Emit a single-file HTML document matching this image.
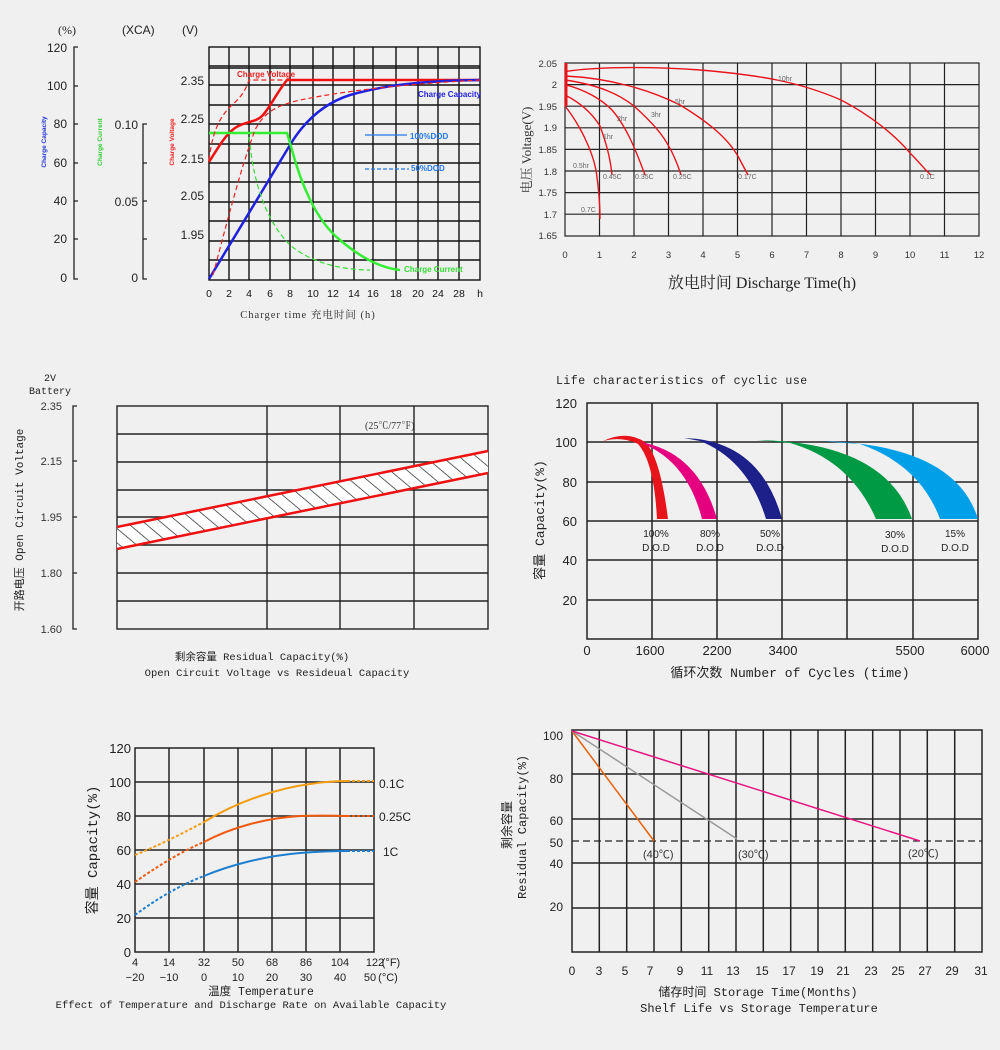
<!DOCTYPE html>
<html><head><meta charset="utf-8"><style>
html,body{margin:0;padding:0;background:#f0f0f0;}
svg{display:block;}
text{font-family:"Liberation Sans","Noto Sans CJK SC",sans-serif;}
.m{font-family:"Liberation Mono","Noto Sans CJK SC",monospace;}
.s{font-family:"Liberation Serif","Noto Serif CJK SC",serif;}
</style></head><body>
<svg width="1000" height="1050" viewBox="0 0 1000 1050" xmlns="http://www.w3.org/2000/svg">
<rect width="1000" height="1050" fill="#f0f0f0"/>
<defs>
<pattern id="h" width="11" height="11" patternUnits="userSpaceOnUse" patternTransform="rotate(-50)">
<rect width="11" height="11" fill="#fff"/><line x1="0" y1="0" x2="0" y2="11" stroke="#222" stroke-width="1.4"/></pattern>
</defs>

<!-- ========== Chart 1 ========== -->
<g font-size="12" fill="#222">
<text x="58" y="34" class="s">(%)</text><text x="122" y="34">(XCA)</text><text x="182" y="34">(V)</text>
</g>
<g stroke="#222" stroke-width="1.3" fill="none">
<path d="M78,47 H74 V279 H78 M74,86 H78 M74,124 H78 M74,163 H78 M74,201 H78 M74,239 H78"/>
<path d="M147,124 H143 V279 H147 M143,163 H147 M143,201 H147 M143,239 H147"/>
</g>
<g font-size="12" fill="#222" class="s" text-anchor="end">
<text x="67" y="52">120</text><text x="67" y="90">100</text><text x="67" y="128">80</text><text x="67" y="167">60</text><text x="67" y="205">40</text><text x="67" y="243">20</text><text x="67" y="282">0</text>
<text x="138" y="129">0.10</text><text x="138" y="206">0.05</text><text x="138" y="282">0</text>
<text x="204" y="85">2.35</text><text x="204" y="123">2.25</text><text x="204" y="163">2.15</text><text x="204" y="200">2.05</text><text x="204" y="239">1.95</text>
</g>
<g font-size="6.5" font-weight="bold" text-anchor="middle">
<text transform="translate(46,142) rotate(-90)" fill="#2233dd">Charge Capacity</text>
<text transform="translate(102,142) rotate(-90)" fill="#33cc33">Charge Current</text>
<text transform="translate(174,142) rotate(-90)" fill="#ee2222">Charge Voltage</text>
</g>
<g stroke="#111" stroke-width="1.4" fill="none">
<rect x="209" y="47" width="271" height="233"/>
<path d="M229,47V280M249,47V280M270,47V280M290,47V280M313,47V280M333,47V280M354,47V280M373,47V280M396,47V280M418,47V280M438,47V280M459,47V280"/>
<path d="M209,66H480M209,68H480M209,85H480M209,105H480M209,124H480M209,144H480M209,163H480M209,182H480M209,202H480M209,221H480M209,241H480M209,260H480"/>
</g>
<g fill="none" stroke-width="2.5">
<path d="M209,162 C218,148 225,135 235,128 C245,121 255,123 262,116 C270,108 275,95 287,80 H480" stroke="#f01010"/>
<path d="M209,279 L290,145 C305,120 325,103 350,95 C385,85 420,81 480,80" stroke="#2020e0"/>
<path d="M209,133 H287 L292,150 C300,180 315,220 340,240 C360,257 380,268 400,270" stroke="#33ee33"/>
</g>
<g fill="none" stroke-width="1.2" stroke-dasharray="5,3">
<path d="M209,160 C212,135 218,118 232,105 C240,98 245,92 249,80 H290" stroke="#ee2222"/>
<path d="M213,275 C225,230 240,170 255,130 C265,110 280,105 300,100 C340,92 390,85 480,80" stroke="#ee2222"/>
<path d="M249,137 L252,160 C258,195 270,225 290,245 C310,262 340,270 370,270" stroke="#33dd33"/>
</g>
<line x1="365" y1="135" x2="407" y2="135" stroke="#2277ee" stroke-width="1.2"/>
<line x1="365" y1="169" x2="409" y2="169" stroke="#2277ee" stroke-width="1.2" stroke-dasharray="4,2"/>
<g font-size="8" font-weight="bold">
<text x="410" y="139" fill="#2277ee">100%DOD</text><text x="411" y="171" fill="#2277ee">50%DOD</text>
<text x="237" y="77" fill="#ee2222">Charge Voltage</text>
<text x="418" y="97" fill="#2222dd">Charge Capacity</text>
<text x="404" y="272" fill="#33dd33">Charge Current</text>
</g>
<g font-size="10.5" fill="#111" text-anchor="middle">
<text x="209" y="297">0</text><text x="229" y="297">2</text><text x="249" y="297">4</text><text x="270" y="297">6</text><text x="290" y="297">8</text><text x="313" y="297">10</text><text x="333" y="297">12</text><text x="354" y="297">14</text><text x="373" y="297">16</text><text x="396" y="297">18</text><text x="418" y="297">20</text><text x="438" y="297">24</text><text x="459" y="297">28</text><text x="480" y="297">h</text>
</g>
<text x="308" y="318" font-size="10.5" text-anchor="middle" class="s" fill="#333" letter-spacing="1">Charger time  充电时间 (h)</text>

<!-- ========== Chart 2 ========== -->
<g stroke="#222" stroke-width="1.2" fill="none">
<rect x="565" y="63" width="414" height="173"/>
<path d="M599.5,63V236M634,63V236M668.5,63V236M703,63V236M737.5,63V236M772,63V236M806.5,63V236M841,63V236M875.5,63V236M910,63V236M944.5,63V236"/>
<path d="M565,84.6H979M565,106.2H979M565,127.8H979M565,149.4H979M565,171H979M565,192.6H979M565,214.2H979"/>
</g>
<g font-size="9.5" fill="#333" class="s" text-anchor="end">
<text x="557" y="67">2.05</text><text x="557" y="88">2</text><text x="557" y="110">1.95</text><text x="557" y="131">1.9</text><text x="557" y="153">1.85</text><text x="557" y="175">1.8</text><text x="557" y="196">1.75</text><text x="557" y="218">1.7</text><text x="557" y="239">1.65</text>
</g>
<g font-size="9.5" fill="#333" class="s" text-anchor="middle">
<text x="565" y="258">0</text><text x="599.5" y="258">1</text><text x="634" y="258">2</text><text x="668.5" y="258">3</text><text x="703" y="258">4</text><text x="737.5" y="258">5</text><text x="772" y="258">6</text><text x="806.5" y="258">7</text><text x="841" y="258">8</text><text x="875.5" y="258">9</text><text x="910" y="258">10</text><text x="944.5" y="258">11</text><text x="979" y="258">12</text>
</g>
<g fill="none" stroke="#e8141c" stroke-width="1.4">
<path d="M565,71.6 C600,66 660,67 700,70 C760,75 800,82 841,100 C870,115 895,135 910,153 C920,163 927,172 931,175"/>
<path d="M565,76 C610,78 650,90 680,105 C710,123 730,140 740,160 L748,175"/>
<path d="M565,80 C600,85 620,95 634,106 C655,125 670,140 681,175"/>
<path d="M565,84.6 C585,90 600,98 612,110 C625,125 634,145 645,175"/>
<path d="M565,95 C585,105 595,118 600,126 C605,140 610,155 612,175"/>
<path d="M565,106 C580,125 592,150 596,170 C599,190 600,205 600,219"/>
</g>
<line x1="566" y1="63" x2="566" y2="106" stroke="#e8141c" stroke-width="3"/>
<g font-size="7" fill="#666" class="s">
<text x="778" y="81">10hr</text><text x="675" y="104">5hr</text><text x="651" y="117">3hr</text><text x="617" y="121">2hr</text><text x="603" y="139">1hr</text><text x="573" y="168">0.5hr</text>
<text x="603" y="179">0.45C</text><text x="635" y="179">0.35C</text><text x="673" y="179">0.25C</text><text x="738" y="179">0.17C</text><text x="920" y="179">0.1C</text><text x="581" y="212">0.7C</text>
</g>
<text transform="translate(531,150) rotate(-90)" font-size="13" fill="#333" text-anchor="middle" class="s">电压 Voltage(V)</text>
<text x="762" y="288" font-size="16" fill="#222" text-anchor="middle" class="s">放电时间 Discharge Time(h)</text>

<!-- ========== Chart 3 ========== -->
<text x="50" y="381" font-size="10" class="m" fill="#222" text-anchor="middle">2V</text>
<text x="50" y="394" font-size="10" class="m" fill="#222" text-anchor="middle">Battery</text>
<path d="M77,406 H73 V629 H77 M73,461 H77 M73,517 H77 M73,573 H77" stroke="#222" stroke-width="1.3" fill="none"/>
<g font-size="11" fill="#333" text-anchor="end">
<text x="62" y="410">2.35</text><text x="62" y="465">2.15</text><text x="62" y="521">1.95</text><text x="62" y="577">1.80</text><text x="62" y="633">1.60</text>
</g>
<g stroke="#222" stroke-width="1.4" fill="none">
<rect x="117" y="406" width="371" height="223"/>
<path d="M267,406V629M340,406V629M414,406V629"/>
<path d="M117,434H488M117,462H488M117,490H488M117,517H488M117,545H488M117,573H488M117,601H488"/>
</g>
<path d="M117,527 L488,451 L488,473 L117,549Z" fill="url(#h)"/>
<g stroke="#ee1111" stroke-width="2.5"><line x1="117" y1="527" x2="488" y2="451"/><line x1="117" y1="549" x2="488" y2="473"/></g>
<text x="365" y="429" font-size="10" fill="#333" class="s">(25℃/77℉)</text>
<text transform="translate(23,520) rotate(-90)" font-size="11" class="m" fill="#222" text-anchor="middle">开路电压 Open Circuit Voltage</text>
<text x="262" y="660" font-size="10.5" class="m" fill="#222" text-anchor="middle">剩余容量 Residual Capacity(%)</text>
<text x="277" y="676" font-size="10.5" class="m" fill="#222" text-anchor="middle">Open Circuit Voltage vs Resideual Capacity</text>

<!-- ========== Chart 4 ========== -->
<text x="556" y="384" font-size="11.5" class="m" fill="#222" letter-spacing="0.5">Life characteristics of cyclic use</text>
<g stroke="#222" stroke-width="1.5" fill="none">
<rect x="587" y="403" width="391" height="236"/>
<path d="M652,403V639M717,403V639M782,403V639M847,403V639M913,403V639"/>
<path d="M587,442H978M587,482H978M587,521H978M587,560H978M587,600H978"/>
</g>
<g font-size="13" fill="#222" text-anchor="end">
<text x="577" y="408">120</text><text x="577" y="447">100</text><text x="577" y="487">80</text><text x="577" y="526">60</text><text x="577" y="565">40</text><text x="577" y="605">20</text>
</g>
<g font-size="13" fill="#222" text-anchor="middle">
<text x="587" y="655">0</text><text x="650" y="655">1600</text><text x="717" y="655">2200</text><text x="783" y="655">3400</text><text x="910" y="655">5500</text><text x="975" y="655">6000</text>
</g>
<path d="M603,441 Q626,430 645,442 Q660,456 668,519 L657,519 Q654,462 638,444 Q622,436 603,441Z" fill="#e8141c"/>
<path d="M640,442 Q698,452 717,519 L702,519 Q688,465 648,446Z" fill="#e4007f"/>
<path d="M684,438 Q760,440 782,519 L766,519 Q748,460 700,441Z" fill="#1d2088"/>
<path d="M757,440 Q885,442 912,519 L876,519 Q850,460 790,443Z" fill="#009944"/>
<path d="M820,441 Q955,444 978,519 L940,519 Q920,465 860,444Z" fill="#00a0e9"/>
<g font-size="10" class="m" fill="#222" text-anchor="middle">
<text x="656" y="537">100%</text><text x="656" y="551">D.O.D</text>
<text x="710" y="537">80%</text><text x="710" y="551">D.O.D</text>
<text x="770" y="537">50%</text><text x="770" y="551">D.O.D</text>
<text x="895" y="538">30%</text><text x="895" y="552">D.O.D</text>
<text x="955" y="537">15%</text><text x="955" y="551">D.O.D</text>
</g>
<text transform="translate(544,520) rotate(-90)" font-size="13" class="m" fill="#222" text-anchor="middle">容量 Capacity(%)</text>
<text x="790" y="677" font-size="13" class="m" fill="#222" text-anchor="middle">循环次数 Number of Cycles (time)</text>

<!-- ========== Chart 5 ========== -->
<g stroke="#222" stroke-width="1.5" fill="none">
<rect x="135" y="748" width="239" height="204"/>
<path d="M169,748V952M204,748V952M238,748V952M272,748V952M306,748V952M340,748V952"/>
<path d="M135,782H374M135,816H374M135,850H374M135,884H374M135,918H374"/>
</g>
<g font-size="13" fill="#222" text-anchor="end">
<text x="131" y="753">120</text><text x="131" y="787">100</text><text x="131" y="821">80</text><text x="131" y="855">60</text><text x="131" y="889">40</text><text x="131" y="923">20</text><text x="131" y="957">0</text>
</g>
<g font-size="11" fill="#222" text-anchor="middle">
<text x="135" y="966">4</text><text x="169" y="966">14</text><text x="204" y="966">32</text><text x="238" y="966">50</text><text x="272" y="966">68</text><text x="306" y="966">86</text><text x="340" y="966">104</text><text x="375" y="966">122</text><text x="391" y="966">(°F)</text>
<text x="135" y="981">−20</text><text x="169" y="981">−10</text><text x="204" y="981">0</text><text x="238" y="981">10</text><text x="272" y="981">20</text><text x="306" y="981">30</text><text x="340" y="981">40</text><text x="370" y="981">50</text><text x="388" y="981">(°C)</text>
</g>
<g fill="none" stroke-width="2">
<path d="M135,855 C160,845 185,832 204,822" stroke="#f39c12" stroke-dasharray="3,2"/>
<path d="M204,822 C240,800 280,788 310,784 C330,781 340,781 347,781" stroke="#f39c12"/>
<path d="M347,781 H374" stroke="#f39c12" stroke-dasharray="3,2"/>
<path d="M135,882 C155,868 180,852 204,842" stroke="#ee5a10" stroke-dasharray="3,2"/>
<path d="M204,842 C230,828 265,818 300,816 C325,815 335,816 347,816" stroke="#ee5a10"/>
<path d="M347,816 H374" stroke="#ee5a10" stroke-dasharray="3,2"/>
<path d="M135,915 C155,900 180,885 204,876" stroke="#1e7fd0" stroke-dasharray="3,2"/>
<path d="M204,876 C230,865 265,856 300,853 C325,851 335,851 347,851" stroke="#1e7fd0"/>
<path d="M347,851 H374" stroke="#1e7fd0" stroke-dasharray="3,2"/>
</g>
<g font-size="12" class="m" fill="#222">
<text x="379" y="788">0.1C</text><text x="379" y="821">0.25C</text><text x="383" y="856">1C</text>
</g>
<text transform="translate(97,850) rotate(-90)" font-size="14" class="m" fill="#222" text-anchor="middle">容量 Capacity(%)</text>
<text x="261" y="995" font-size="11.5" class="m" fill="#222" text-anchor="middle">温度 Temperature</text>
<text x="251" y="1008" font-size="10.5" class="m" fill="#222" text-anchor="middle">Effect of Temperature and Discharge Rate on Available Capacity</text>

<!-- ========== Chart 6 ========== -->
<g stroke="#222" stroke-width="1.5" fill="none">
<rect x="572" y="730" width="410" height="222"/>
<path d="M599.3,730V952M626.7,730V952M654,730V952M681.3,730V952M708.7,730V952M736,730V952M763.3,730V952M790.7,730V952M818,730V952M845.3,730V952M872.7,730V952M900,730V952M927.3,730V952M954.7,730V952"/>
<path d="M572,774H982M572,819H982M572,863H982M572,908H982"/>
<path d="M572,841H982" stroke-dasharray="7,4" stroke-width="1.2"/>
</g>
<g font-size="12" fill="#222" text-anchor="end">
<text x="563" y="740">100</text><text x="563" y="783">80</text><text x="563" y="825">60</text><text x="563" y="847">50</text><text x="563" y="868">40</text><text x="563" y="911">20</text>
</g>
<g font-size="12" fill="#222" text-anchor="middle">
<text x="572" y="975">0</text><text x="599" y="975">3</text><text x="625" y="975">5</text><text x="650" y="975">7</text><text x="680" y="975">9</text><text x="707" y="975">11</text><text x="733" y="975">13</text><text x="762" y="975">15</text><text x="789" y="975">17</text><text x="817" y="975">19</text><text x="843" y="975">21</text><text x="871" y="975">23</text><text x="898" y="975">25</text><text x="925" y="975">27</text><text x="952" y="975">29</text><text x="981" y="975">31</text>
</g>
<g stroke-width="1.5">
<line x1="572" y1="731" x2="654" y2="841" stroke="#e8600c"/>
<line x1="572" y1="731" x2="737" y2="839" stroke="#999"/>
<line x1="572" y1="731" x2="920" y2="841" stroke="#e4157f"/>
</g>
<g font-size="11" fill="#333" class="s">
<text x="643" y="858">(40℃)</text><text x="738" y="858">(30℃)</text><text x="908" y="857">(20℃)</text>
</g>
<text transform="translate(511,825) rotate(-90)" font-size="12" class="m" fill="#222" text-anchor="middle">剩余容量</text>
<text transform="translate(526,827) rotate(-90)" font-size="12" class="m" fill="#222" text-anchor="middle">Residual Capacity(%)</text>
<text x="758" y="996" font-size="12" class="m" fill="#222" text-anchor="middle">储存时间 Storage Time(Months)</text>
<text x="759" y="1012" font-size="12" class="m" fill="#222" text-anchor="middle">Shelf Life vs Storage Temperature</text>
</svg>
</body></html>
